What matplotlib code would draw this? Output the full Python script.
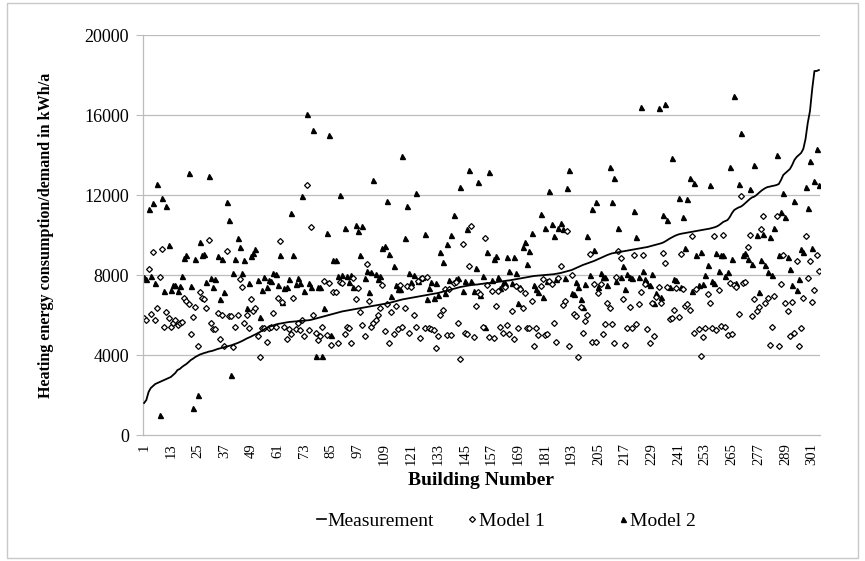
import matplotlib
matplotlib.use("Agg")
import matplotlib.pyplot as plt
from matplotlib.lines import Line2D
from matplotlib.patches import Rectangle

plt.rcParams['font.family'] = ['Liberation Serif', 'DejaVu Serif']

# Measured heating energy consumption per building (sorted ascending), kWh/a
measurement = [
    1600, 1750, 2150, 2350, 2450, 2550, 2600, 2650, 2700, 2750,
    2800, 2850, 2900, 3000, 3100, 3250, 3300, 3400, 3480, 3550,
    3650, 3750, 3820, 3900, 3960, 4020, 4060, 4100, 4130, 4170,
    4190, 4220, 4260, 4300, 4330, 4360, 4390, 4420, 4450, 4480,
    4520, 4560, 4600, 4650, 4700, 4760, 4820, 4870, 4920, 4980,
    5030, 5090, 5150, 5220, 5290, 5350, 5400, 5440, 5480, 5520,
    5550, 5570, 5590, 5610, 5630, 5650, 5660, 5670, 5680, 5690,
    5700, 5710, 5720, 5730, 5740, 5760, 5790, 5820, 5850, 5880,
    5910, 5940, 5970, 6000, 6030, 6060, 6090, 6120, 6150, 6180,
    6200, 6220, 6240, 6260, 6280, 6300, 6320, 6340, 6360, 6380,
    6400, 6420, 6440, 6460, 6480, 6500, 6520, 6540, 6560, 6580,
    6600, 6630, 6660, 6690, 6720, 6750, 6780, 6800, 6820, 6840,
    6860, 6880, 6900, 6920, 6940, 6960, 6980, 7000, 7020, 7040,
    7060, 7080, 7100, 7130, 7160, 7190, 7220, 7250, 7280, 7310,
    7340, 7370, 7400, 7420, 7440, 7460, 7480, 7500, 7510, 7520,
    7530, 7550, 7560, 7580, 7590, 7600, 7620, 7630, 7640, 7660,
    7670, 7690, 7700, 7720, 7730, 7750, 7770, 7790, 7810, 7830,
    7850, 7870, 7890, 7910, 7930, 7950, 7960, 7970, 7980, 7990,
    8000, 8010, 8020, 8030, 8040, 8060, 8080, 8100, 8130, 8160,
    8190, 8220, 8250, 8300, 8350, 8400, 8450, 8500, 8540, 8580,
    8620, 8660, 8700, 8750, 8800, 8850, 8900, 8950, 9000, 9040,
    9080, 9100, 9120, 9140, 9160, 9180, 9200, 9220, 9240, 9260,
    9280, 9300, 9320, 9340, 9360, 9380, 9400, 9430, 9460, 9490,
    9520, 9550, 9580, 9620, 9680, 9750, 9820, 9880, 9940, 9990,
    10030, 10060, 10080, 10100, 10120, 10140, 10160, 10180, 10200, 10220,
    10240, 10260, 10280, 10300, 10320, 10350, 10380, 10420, 10480, 10560,
    10650, 10700, 10750, 10900, 11100, 11250, 11320, 11380, 11420, 11500,
    11600, 11700, 11800, 11880, 11920, 12000, 12100, 12200, 12280, 12350,
    12400, 12420, 12450, 12470, 12500, 12550, 12750, 13000, 13100, 13200,
    13300, 13500, 13750, 13900, 14000, 14100, 14300, 14800, 15600, 16200,
    17300, 18200, 18200, 18250,
]

# Model 1 demand per building, kWh/a
model1 = [
    5870, 5750, 8300, 6050, 9130, 5750, 6330, 7920, 9280, 5420,
    6170, 5830, 5380, 5580, 5750, 5500, 5580, 5670, 6870, 6700,
    6530, 5030, 5920, 6420, 4470, 7130, 6850, 6800,
    6370, 9730, 5580, 5280, 5280, 6120, 4780, 6000, 4450, 9200,
    5950, 5950, 4420, 5420, 6000, 7800, 7420, 5580, 6000, 5330,
    6780, 6200, 6330, 4950, 3920, 5330, 5330, 4670, 5330,
    5380, 6080, 5380, 6870, 9700, 6630, 5380, 4780, 5280, 5030,
    6870, 5280, 5580, 5250, 5750, 4950, 12500, 5250, 10420, 6000,
    5120, 4750, 4950, 5380, 7720, 5000, 7580, 4500, 7170,
    7170, 4580, 7670, 7620, 5030, 5380, 5330, 4580, 7870, 6780,
    7370, 6170, 5500, 4950, 8550, 6700, 5380, 5580, 5750, 6000,
    6370, 7500, 5220, 6530, 4580, 6170, 5030, 6450, 5280,
    7500, 5380, 6330, 7450, 5080, 7420, 6000, 5380, 7700, 4830,
    7830, 5370, 7920, 5370, 5280, 5250, 4370, 4950, 6000, 6250,
    7320, 5000, 7300, 5000, 7620, 7670, 5620, 3780, 9530,
    5080, 5030, 8450, 10450, 4920, 6450, 7170, 7050, 5380, 9870,
    7500, 4920, 7220, 4830, 6450, 7220, 5380, 5120, 7420, 5500,
    5050, 6200, 4780, 7470, 5330, 7280, 6370, 7080, 5330,
    5330, 6720, 4470, 5370, 5000, 7470, 7780, 5000, 5030, 7720,
    7530, 5580, 4670, 7830, 8450, 6500, 6720, 10220, 4450, 8000,
    6050, 5970, 3920, 6420, 5080, 5700, 6000, 9030, 4670,
    7530, 4670, 7080, 7530, 5030, 5530, 6620, 6330, 5530, 4620,
    7920, 9200, 8870, 6800, 4500, 5330, 6420, 5330, 9000, 5530,
    6530, 7170, 9000, 7530, 5280, 4580, 6580, 4950, 6920,
    7420, 6580, 9120, 8580, 7420, 5800, 5870, 6250, 7370, 5880,
    9030, 7280, 6450, 6530, 6250, 9970, 5120, 7280, 5280, 3970,
    4920, 5330, 7030, 6580, 5370, 9970, 5250, 7250, 5450,
    10000, 5380, 5000, 7580, 5030, 7500, 7380, 6050, 11950, 7580,
    7670, 9420, 10000, 5950, 6800, 6220, 6380, 10280, 10970, 6580,
    6830, 4500, 5380, 6950, 10970, 4450, 7530, 9000, 6580, 6220,
    4950, 6670, 5080, 8720, 4450, 5330, 6870, 9970, 7830, 8720,
    6630, 7250, 9000, 8200,
]

# Model 2 demand per building, kWh/a
model2 = [
    7920, 7780, 11280, 7950, 11620, 7580, 12530, 1000, 11870, 7180,
    11450, 9480, 7250, 7500, 7500, 7200, 7450, 7950, 8830, 9000,
    13080, 7450, 1330, 8780, 2000, 9630, 9000, 9070,
    7670, 12950, 7830, 7420, 7780, 8950, 6800, 8780, 7170, 11630,
    10750, 3000, 8080, 8780, 9870, 9420, 8080, 8750, 6330, 7600,
    8970, 9080, 9280, 7750, 5920, 7250, 7920, 7420, 7750,
    7720, 8120, 8050, 7500, 9000, 6670, 7330, 7380, 7780, 11080,
    9000, 7550, 7830, 7580, 11950, 7220, 16050, 7600, 7380, 15250,
    3970, 7420, 7420, 3970, 6330, 10080, 15000, 5000, 8750,
    8750, 7950, 12000, 7980, 10330, 7950, 7630, 8000, 7420, 10500,
    10200, 9000, 10450, 7870, 8200, 7170, 8130, 12750, 8030, 7800,
    7950, 9370, 9470, 11720, 9050, 6970, 8470, 7500, 7280,
    7320, 13970, 9830, 11450, 8120, 7650, 8000, 12120, 7700, 7830,
    7920, 10050, 6780, 7370, 7630, 6830, 7580, 7000, 9170, 8670,
    7100, 9530, 7750, 10000, 11000, 7800, 7830, 12380, 7200,
    7700, 10280, 13250, 7720, 7200, 8330, 12670, 7000, 7970, 5380,
    9130, 13170, 7750, 8780, 8970, 7900, 7370, 7620, 7620, 8920,
    8220, 7620, 8920, 8100, 6580, 7400, 9420, 9630, 8550,
    9200, 10120, 7500, 7280, 7170, 11050, 6900, 10330, 7700, 12220,
    10550, 9950, 7800, 10370, 10620, 10280, 7870, 12330, 13250, 7100,
    7030, 7630, 7400, 6780, 6420, 7550, 9970, 8000, 11280,
    9250, 11630, 7400, 8080, 7920, 7920, 7500, 13380, 11670, 12830,
    7700, 10330, 7920, 8470, 7300, 8050, 7920, 7870, 11200, 9920,
    7900, 16420, 8200, 7780, 7620, 7500, 8030, 6580, 7100,
    16330, 6920, 11000, 16550, 10750, 7420, 13830, 7800, 7750, 11830,
    7420, 10920, 9370, 11800, 12870, 7220, 12620, 9000, 7500, 9170,
    7530, 8000, 8500, 12500, 7700, 7580, 9080, 8200, 9000,
    9000, 7950, 8170, 13380, 8780, 16950, 7600, 12550, 15120, 9000,
    9080, 8780, 12280, 8550, 13500, 10000, 7170, 8750, 10050, 8500,
    8170, 9920, 8000, 10330, 14000, 9000, 11150, 12120, 10900, 8920,
    8280, 7500, 11720, 7250, 7780, 9280, 9170, 12400, 11330, 13700,
    9330, 12700, 14300, 12500,
]

buildings = list(range(1, len(measurement) + 1))
tick_buildings = buildings[::12]
y_ticks = [0, 4000, 8000, 12000, 16000, 20000]

fig = plt.figure(figsize=(8.65, 5.61), dpi=100)
ax = fig.add_axes([143 / 865, 1 - 435 / 561, (820 - 143) / 865, 400 / 561])

grid_c = '#bcbcbc'
for v in y_ticks[1:]:
    ax.axhline(v, color=grid_c, lw=0.9, zorder=0)

ax.plot(buildings, model2, linestyle='none', marker='^', ms=3.6,
        color='black', mec='black', zorder=2)
ax.plot(buildings, model1, linestyle='none', marker='D', ms=3.0,
        mfc='white', mec='black', mew=0.9, zorder=2)
ax.plot(buildings, measurement, color='black', lw=1.3, zorder=3)

ax.set_xlim(0.5, len(buildings) + 0.5)
ax.set_ylim(0, 20000)
ax.set_yticks(y_ticks)
ax.set_yticklabels([str(v) for v in y_ticks], fontsize=13)
ax.set_xticks(tick_buildings)
ax.set_xticklabels([str(b) for b in tick_buildings], rotation=90, fontsize=10.5)
ax.tick_params(axis='y', direction='out', length=5, color=grid_c, pad=5)
ax.tick_params(axis='x', length=0, pad=6)

for side in ('top', 'right'):
    ax.spines[side].set_visible(False)
for side in ('left', 'bottom'):
    ax.spines[side].set_color(grid_c)
    ax.spines[side].set_linewidth(0.9)

ax.set_ylabel('Heating energy consumption/demand in kWh/a', fontsize=11.6,
              fontweight='bold', labelpad=22)
ax.set_xlabel('Building Number', fontsize=14, fontweight='bold', labelpad=5)

# legend entries placed individually along the bottom
legend_items = [
    (Line2D([], [], color='black', lw=1.2), 'Measurement', 317),
    (Line2D([], [], linestyle='none', marker='D', ms=3.0, mfc='white',
            mec='black', mew=0.9), 'Model 1', 468),
    (Line2D([], [], linestyle='none', marker='^', ms=3.6, color='black'),
     'Model 2', 619),
]
for handle, label, xpix in legend_items:
    fig.legend([handle], [label], loc='center left',
               bbox_to_anchor=(xpix / 865, 1 - 521 / 561),
               frameon=False, fontsize=14, handlelength=0.45,
               handletextpad=0.1, borderpad=0, borderaxespad=0)

fig.patches.append(Rectangle((0.008, 0.006), 0.984, 0.988,
                             transform=fig.transFigure, fill=False,
                             edgecolor='#c8c8c8', lw=1.0))

fig.savefig('out.png', dpi=100)
